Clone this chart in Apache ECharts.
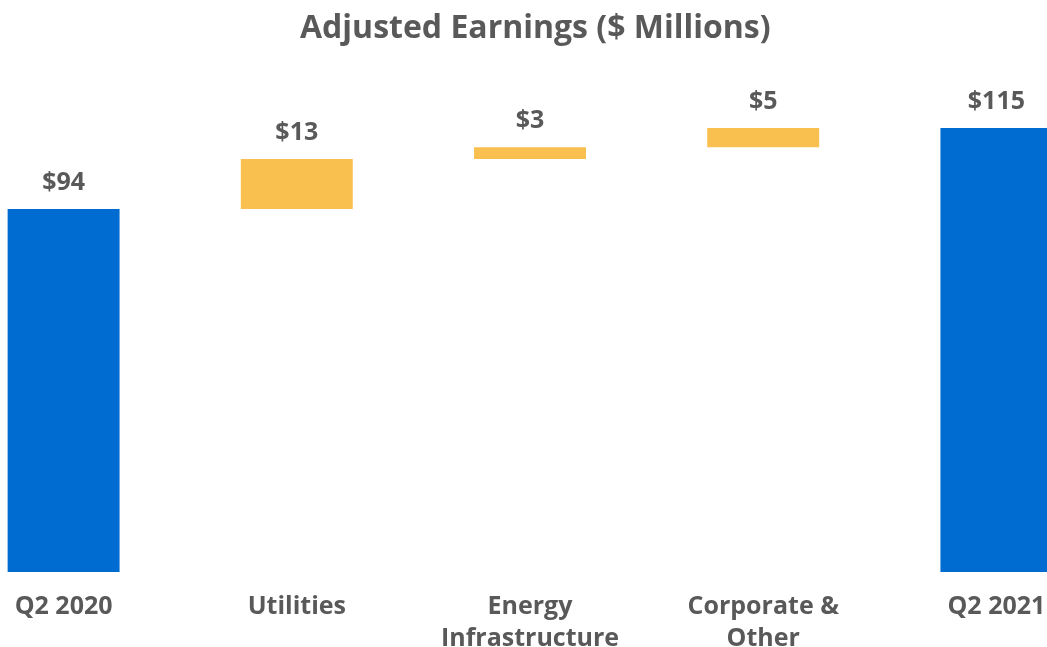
<!DOCTYPE html>
<html>
<head>
<meta charset="utf-8">
<script src="https://cdn.jsdelivr.net/npm/echarts@6/dist/echarts.min.js"></script>
<style>
  html, body { margin: 0; padding: 0; background: #fff; }
  #chart { width: 1047px; height: 647px; }
</style>
</head>
<body>
<div id="chart"></div>
<script>
const categories = ['Q2 2020', 'Utilities', 'Energy\nInfrastructure', 'Corporate &\nOther', 'Q2 2021'];
const amounts = [94, 13, 3, 5, 115];
const bases = [0, 94, 107, 110, 0];
const labels = ['$94', '$13', '$3', '$5', '$115'];
const isTotal = [true, false, false, false, true];

const BLUE = '#006CD1';
const GOLD = '#F9BF4F';
const GREY = '#595959';

const chart = echarts.init(document.getElementById('chart'));

const option = {
    animation: false,
    title: {
        text: 'Adjusted Earnings ($ Millions)',
        left: 295,
        top: 8,
        textStyle: {
            fontFamily: 'Open Sans',
            fontWeight: 'bold',
            fontSize: 32,
            color: GREY
        }
    },
    grid: {
        left: -53,
        right: -66,
        top: 128,
        bottom: 75,
        outerBoundsMode: 'none',
        containLabel: false
    },
    xAxis: {
        type: 'category',
        data: categories,
        axisLine: { show: false },
        axisTick: { show: false },
        axisLabel: {
            margin: 19,
            fontFamily: 'Open Sans',
            fontWeight: 'bold',
            fontSize: 25,
            lineHeight: 32,
            color: GREY,
            interval: 0
        }
    },
    yAxis: {
        type: 'value',
        min: 0,
        max: 115,
        show: false
    },
    series: [
        {
            type: 'bar',
            stack: 'w',
            data: bases,
            itemStyle: { color: 'transparent' },
            barWidth: '48%',
            silent: true
        },
        {
            type: 'bar',
            stack: 'w',
            data: amounts.map(function (v, i) {
                return { value: v, itemStyle: { color: isTotal[i] ? BLUE : GOLD } };
            }),
            barWidth: '48%',
            label: {
                show: true,
                position: 'top',
                distance: 14,
                fontFamily: 'Open Sans',
                fontWeight: 'bold',
                fontSize: 25,
                color: GREY,
                formatter: function (p) { return labels[p.dataIndex]; }
            }
        }
    ]
};
chart.setOption(option);
</script>
</body>
</html>
